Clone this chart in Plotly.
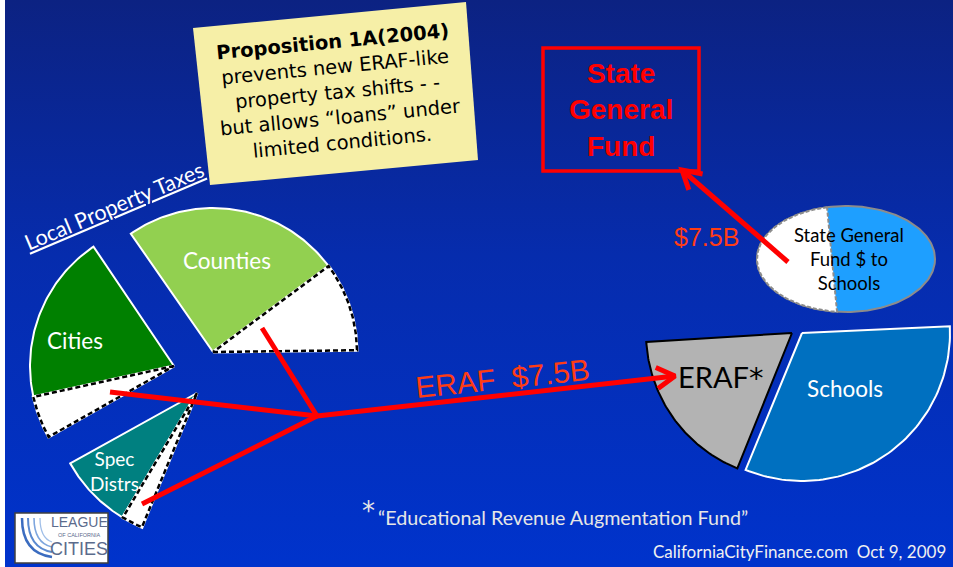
import numpy as np
import plotly.graph_objects as go

# ---------------- data ----------------
# pie slices (angles in degrees, counter-clockwise from 3 o'clock)
slice_names = ["Counties", "Counties ERAF", "Cities", "Cities ERAF",
               "Spec Distrs", "Spec ERAF", "ERAF", "Schools"]
slice_start = [36.6, 0.7, 124.0, 192.4, 209.0, 239.0, 183.5, 247.6]
slice_end = [124.8, 36.6, 192.4, 209.5, 239.0, 247.7, 248.0, 362.6]
# state general fund ellipse: share shifted (white) between these angles
sgf_shift_angles = [102.3, 264.2]

flow_labels = ["ERAF  $7.5B", "$7.5B"]
label_texts = ["Counties", "Cities", "Spec<br>Distrs", "Schools", "ERAF"]

# ---------------- geometry / style ----------------
slice_cx = [213, 213, 174, 174, 197, 197, 792, 802]
slice_cy = [352, 352, 366, 366, 393, 393, 333, 333]
slice_r = [144, 144, 144, 144, 145, 145, 146, 148]
slice_fill = ["#92d050", "#ffffff", "#008000", "#ffffff",
              "#008080", "#ffffff", "#b3b3b3", "#0070c0"]
slice_kind = ["solid", "dash", "solid", "dash", "solid", "dash", "black", "solid"]

W, H = 953, 567
fig = go.Figure()

# background gradient
fig.add_trace(go.Scatter(
    x=[5, W, W, 5, 5], y=[0, 0, H, H, 0], mode="none", fill="toself",
    fillgradient=dict(type="vertical", start=0, stop=H,
                      colorscale=[[0, "#0c2282"], [0.45, "#062cad"], [1, "#0033cc"]]),
    hoverinfo="skip"))


def wedge(cx, cy, r, a0, a1, n=80):
    t = np.radians(np.linspace(a0, a1, n))
    xs = [cx] + list(cx + r * np.cos(t)) + [cx]
    ys = [cy] + list(cy - r * np.sin(t)) + [cy]
    return xs, ys


for i in range(len(slice_names)):
    xs, ys = wedge(slice_cx[i], slice_cy[i], slice_r[i], slice_start[i], slice_end[i])
    kind = slice_kind[i]
    if kind == "dash":
        fig.add_trace(go.Scatter(x=xs, y=ys, mode="lines", fill="toself",
                                 fillcolor=slice_fill[i],
                                 line=dict(color="white", width=3), hoverinfo="skip"))
        fig.add_trace(go.Scatter(x=xs, y=ys, mode="lines",
                                 line=dict(color="black", width=2.5, dash="5px,3px"),
                                 hoverinfo="skip"))
    else:
        col = "black" if kind == "black" else "white"
        fig.add_trace(go.Scatter(x=xs, y=ys, mode="lines", fill="toself",
                                 fillcolor=slice_fill[i],
                                 line=dict(color=col, width=2), hoverinfo="skip"))

# ellipse: State General Fund $ to Schools
ecx, ecy, erx, ery = 846, 259, 89, 53
t = np.radians(np.linspace(0, 360, 200))
fig.add_trace(go.Scatter(x=ecx + erx * np.cos(t), y=ecy - ery * np.sin(t), mode="lines",
                         fill="toself", fillcolor="#1e9fff",
                         line=dict(color="#8c8c8c", width=2), hoverinfo="skip"))
t = np.radians(np.linspace(sgf_shift_angles[0], sgf_shift_angles[1], 120))
ex = list(ecx + erx * np.cos(t))
ey = list(ecy - ery * np.sin(t))
ex.append(ex[0]); ey.append(ey[0])
fig.add_trace(go.Scatter(x=ex, y=ey, mode="lines", fill="toself", fillcolor="white",
                         line=dict(color="#8c8c8c", width=2, dash="4px,2px"), hoverinfo="skip"))

# red flow lines
junction = (317, 416)
feeders = [(262, 328), (110, 392), (142, 504)]
for fx, fy in feeders:
    fig.add_trace(go.Scatter(x=[fx, junction[0]], y=[fy, junction[1]], mode="lines",
                             line=dict(color="#ff0000", width=5), hoverinfo="skip"))

arrows = [(junction, (675, 376)), ((788, 262), (682, 170))]
for (sx, sy), (tx, ty) in arrows:
    fig.add_trace(go.Scatter(x=[sx, tx], y=[sy, ty], mode="lines",
                             line=dict(color="#ff0000", width=5), hoverinfo="skip"))
    d = np.array([sx - tx, sy - ty], float)
    d /= np.linalg.norm(d)
    L = 21
    wings = []
    for ang in (30, -30):
        a = np.radians(ang)
        rot = np.array([d[0] * np.cos(a) - d[1] * np.sin(a), d[0] * np.sin(a) + d[1] * np.cos(a)])
        wings.append((tx + L * rot[0], ty + L * rot[1]))
    fig.add_trace(go.Scatter(x=[wings[0][0], tx, wings[1][0]], y=[wings[0][1], ty, wings[1][1]],
                             mode="lines", line=dict(color="#ff0000", width=5),
                             hoverinfo="skip"))

shapes = [
    # yellow note
    dict(type="path", path="M 193 28 L 466 2 L 478 160 L 210 185 Z",
         fillcolor="#f6efa7", line=dict(width=0), layer="above"),
    # State General Fund box
    dict(type="rect", x0=543, y0=48, x1=699, y1=171, line=dict(color="#ff0000", width=3.5),
         fillcolor="rgba(0,0,0,0)", layer="above"),
    # logo
    dict(type="rect", x0=15, y0=513, x1=108, y1=563, fillcolor="white",
         line=dict(color="#404040", width=1.5), layer="above"),
    dict(type="path", path="M 22 518 Q 22 553 52 557", line=dict(color="#3b6cc0", width=2.5), layer="above"),
    dict(type="path", path="M 28 518 Q 28 548 52 552", line=dict(color="#5b8ad0", width=2), layer="above"),
    dict(type="path", path="M 34 518 Q 34 543 52 547", line=dict(color="#7ea6de", width=1.6), layer="above"),
    dict(type="path", path="M 40 518 Q 40 538 52 542", line=dict(color="#a0bfe8", width=1.3), layer="above"),
]

LATO = "Lato, Calibri, sans-serif"
ARIAL = "Liberation Sans, Arial, sans-serif"
ann = []


def add(text, x, y, size, color, family=LATO, angle=0, xanchor="center", **kw):
    ann.append(dict(text=text, x=x, y=y, xref="x", yref="y", showarrow=False,
                    font=dict(size=size, color=color, family=family), textangle=angle,
                    xanchor=xanchor, yanchor="middle", **kw))


add(label_texts[0], 227, 260, 22.5, "white")
add(label_texts[1], 75, 340, 22.5, "white")
add(label_texts[2], 114, 471, 19, "white")
add(label_texts[3], 845, 388, 22.5, "white")
add(label_texts[4] + "<span style='font-family:DejaVu Sans'>*</span>", 720, 377, 29, "black")
add("State General<br>Fund $ to<br>Schools", 849, 259, 18.5, "black")
add("<b>State<br>General<br>Fund</b>", 621, 110, 28, "#ff0000", family=ARIAL)
add(flow_labels[1], 706, 237, 25, "#ff3c14", family=ARIAL)
add(flow_labels[0].replace(" ", "\u00a0"), 502, 378, 30, "#ff3c14", family=ARIAL, angle=-6)
add("<u>Local Property Taxes</u>", 114, 206, 21.5, "white", angle=-23)
add("<b>Proposition 1A(2004)</b><br>prevents new ERAF-like<br>property tax shifts - -<br>"
    "but allows \u201cloans\u201d under<br>limited conditions.", 338, 92, 19.5,
    "black", family="DejaVu Sans, sans-serif", angle=-5.5)
add("*", 368, 511, 26, "#e6e6e6", family="DejaVu Sans, sans-serif")
add("\u201cEducational Revenue Augmentation Fund\u201d", 376, 517, 19.7, "#e6e6e6", xanchor="left")
add("CaliforniaCityFinance.com\u00a0\u00a0Oct 9, 2009", 948, 551, 17, "#f0f0f0", xanchor="right")
add("LEAGUE", 79, 522, 14, "#5b6b8c", family="Liberation Sans Narrow, Liberation Sans")
add("OF CALIFORNIA", 79, 535, 5.5, "#5b6b8c", family="Liberation Sans Narrow, Liberation Sans")
add("CITIES", 79, 549, 18, "#5b6b8c", family="Liberation Sans Narrow, Liberation Sans")

fig.update_layout(
    width=W, height=H, autosize=False,
    margin=dict(l=0, r=0, t=0, b=0, pad=0),
    paper_bgcolor="white", plot_bgcolor="white",
    showlegend=False,
    xaxis=dict(range=[0, W], visible=False, fixedrange=True),
    yaxis=dict(range=[H, 0], visible=False, fixedrange=True),
    shapes=shapes, annotations=ann,
)

fig.write_html("out.html", config={"displayModeBar": False},
               post_script="document.body.style.margin='0';")
